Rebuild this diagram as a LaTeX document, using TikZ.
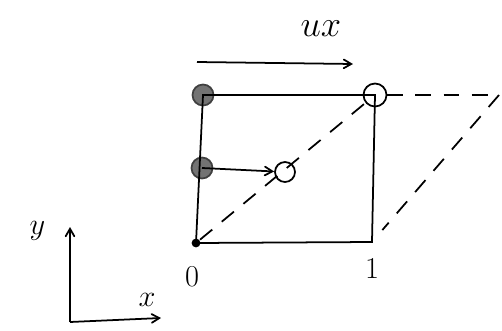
\documentclass[tikz,border=0pt]{standalone}
\usepackage{tikz}
\usetikzlibrary{positioning, arrows}

\begin{document}
\begin{tikzpicture}[>=angle 60, line width=1pt, on grid,
    dot/.style={circle, fill=black, inner sep=0pt, minimum size=5pt},
    heavy/.style={circle, fill=black!55, draw=black!75, inner sep=0pt, minimum size=0.42cm},
    hollow/.style={circle, draw, inner sep=0pt, minimum size=0.46cm},
    lab/.style={font=\LARGE},
    sheared/.style={dash pattern=on 9pt off 7pt}]
   \useasboundingbox (0,0) rectangle (10.04,6.6);

   % Quadrat (unverformt)
   \node[dot] (p_0) at (3.92,1.74) {};
   \node[heavy] (p_1) at (4.04,3.24) {};
   \node[heavy] (p_2) at (4.06,4.7) {};
   \coordinate (p_3) at (7.44,1.76);

   % verschobene Punkte
   \node[hollow, minimum size=0.4cm] (q_1) at (5.7,3.16) {};
   \node[hollow] (q_2) at (7.5,4.7) {};
   \coordinate (q_3) at (9.98,4.7);

   \draw (p_0.center) -- (p_2.center) -- (q_2.center) -- (p_3) -- (p_0.center);
   \draw[->] (p_1.center) -- (q_1);

   % verformte Seiten
   \draw[sheared] (p_0) -- (q_2);
   \draw[sheared] (q_2) -- (q_3);
   \draw[sheared, shorten >=9pt] (q_3) -- (p_3);

   % Verschiebung
   \coordinate (u_0) at (3.94,5.36);
   \coordinate (u_1) at (7.06,5.32);
   \draw[->] (u_0) -- (u_1);
   \node[font=\huge] (ux) [above left=0.42cm and 0.1cm of u_1] {$ux$};

   \node[lab] (l_0) [below=0.68cm of p_0, xshift=-0.08cm] {0};
   \node[lab] (l_1) [below=0.2cm of p_3] {1};

   % Achsen
   \coordinate (a_0) at (1.4,0.16);
   \coordinate (a_y) at (1.4,2.06);
   \coordinate (a_x) at (3.22,0.24);
   \draw[->] (a_0) -- (a_y);
   \draw[->] (a_0) -- (a_x);
   \node[lab] (y) [left=0.36cm of a_y, yshift=-0.08cm] {$y$};
   \node[lab] (x) [above=0.1cm of a_x, xshift=-0.28cm] {$x$};
\end{tikzpicture}
\end{document}
